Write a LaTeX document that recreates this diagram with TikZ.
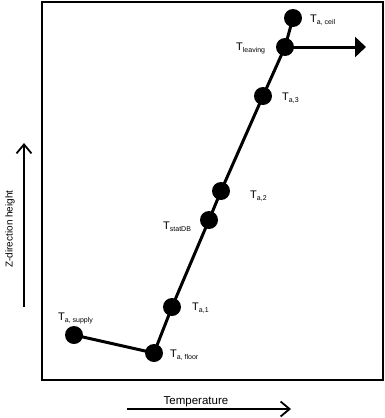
\documentclass[tikz,border=0pt]{standalone}
\usepackage{fontspec}
\setmainfont{Liberation Sans}
\usetikzlibrary{arrows.meta}
\newcommand\lab[2]{{\fontsize{11}{11}\selectfont #1}\raisebox{-2.5pt}{\fontsize{7}{7}\selectfont #2}}
\begin{document}
\begin{tikzpicture}[x=1pt,y=-1pt,
  pt/.style={circle,fill=black,minimum size=18pt,inner sep=0pt},
  lbl/.style={anchor=base west,inner sep=0pt},
  frame/.style={draw=black,line width=2pt},
  curve/.style={line width=3pt},
  axis/.style={line width=1.8pt,-{Straight Barb[length=9pt,width=15pt,line width=1.8pt]}}]
\useasboundingbox (0,0) rectangle (385,418);
\draw[frame] (42,2) rectangle (383,380);
\node[pt] (sup) at (74,335) {};
\node[pt] (flo) at (154,353) {};
\node[pt] (a1) at (172,307) {};
\node[pt] (db) at (209,220) {};
\node[pt] (a2) at (221,191) {};
\node[pt] (a3) at (263,96) {};
\node[pt] (lv) at (285,47) {};
\node[pt] (ce) at (293,18) {};
\coordinate (lvend) at (366,47);
\draw[curve] (sup.center) -- (flo.center) -- (a1.center) -- (db.center) -- (a2.center) -- (a3.center) -- (lv.center) -- (ce.center);
\draw[line width=3pt,-{Triangle[length=11pt,width=20pt]}] (lv.center) -- (lvend);
\node[lbl] (tce) at (310,22) {\lab{T}{a, ceil}};
\node[lbl] (tlv) at (236,50) {\lab{T}{leaving}};
\node[lbl] (ta3) at (282,100) {\lab{T}{a,3}};
\node[lbl] (ta2) at (250,198) {\lab{T}{a,2}};
\node[lbl] (tdb) at (163,229) {\lab{T}{statDB}};
\node[lbl] (ta1) at (192,310) {\lab{T}{a,1}};
\node[lbl] (tfl) at (170,357) {\lab{T}{a, floor}};
\node[lbl] (tsu) at (58,320) {\lab{T}{a, supply}};
\coordinate (zb) at (24,307);
\coordinate (zt) at (24,143);
\draw[axis] (zb) -- (zt);
\node[rotate=90,inner sep=0pt,font=\fontsize{10}{10}\selectfont] (zl) at (10,229) {Z-direction height};
\coordinate (tb) at (127,409);
\coordinate (te) at (291,409);
\draw[axis] (tb) -- (te);
\node[anchor=base,inner sep=0pt,font=\fontsize{11.5}{11.5}\selectfont] (tl) at (196,404) {Temperature};
\end{tikzpicture}
\end{document}
